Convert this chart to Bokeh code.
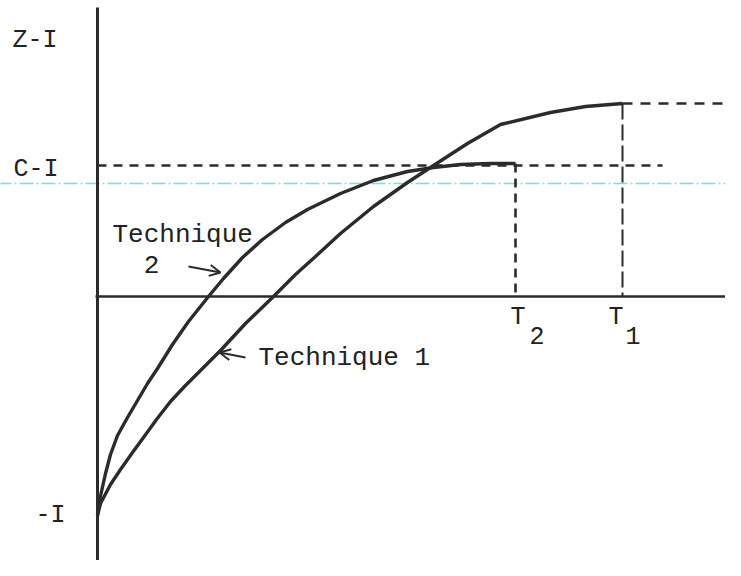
from bokeh.plotting import figure
from bokeh.models import Range1d, Arrow, OpenHead
from bokeh.core.properties import value
from bokeh.embed import file_html
from bokeh.resources import INLINE

# ---- data (time t, present value v) ----
tech2_t = [0.00, 0.02, 0.08, 0.13, 0.20, 0.30, 0.40, 0.50, 0.60, 0.75, 0.91, 1.11,
           1.26, 1.45, 1.65, 1.88, 2.10, 2.43, 2.76, 3.10, 3.36, 3.63, 3.93, 4.18]
tech2_v = [-2.19, -2.04, -1.77, -1.58, -1.39, -1.21, -1.04, -0.87, -0.72, -0.48, -0.25, 0.00,
           0.18, 0.39, 0.57, 0.74, 0.87, 1.03, 1.16, 1.25, 1.29, 1.32, 1.33, 1.33]
tech1_t = [0.00, 0.03, 0.13, 0.23, 0.35, 0.46, 0.59, 0.73, 0.87, 1.00, 1.23, 1.48,
           1.76, 1.98, 2.18, 2.43, 2.76, 3.10, 3.36, 3.70, 4.03, 4.53, 4.88, 5.25]
tech1_v = [-2.19, -2.07, -1.88, -1.73, -1.56, -1.41, -1.23, -1.05, -0.90, -0.77, -0.54, -0.27,
           0.00, 0.22, 0.40, 0.63, 0.90, 1.14, 1.31, 1.53, 1.72, 1.84, 1.90, 1.93]
T2 = 4.18
T1 = 5.25
CI_level = 1.31
ZI_level = 1.93
scan_level = 1.13

level_labels = ["Z-I", "C-I", "-I"]
tick_labels = ["T", "T"]
tick_subs = ["2", "1"]

INK = "#2b2b2b"
TXT = "#222222"
FONT = value("Liberation Mono")

p = figure(width=725, height=560, output_backend="svg", toolbar_location=None,
           x_axis_type=None, y_axis_type=None, min_border=0,
           x_range=Range1d(-0.97, 6.28), y_range=Range1d(-2.64, 2.96))
p.grid.visible = False
p.outline_line_color = None
p.background_fill_color = "white"
p.border_fill_color = "white"

# faint scan line
p.line([-1.0, 6.5], [scan_level, scan_level], line_color="#55dede", line_width=1.5,
       line_dash="14 3 2 3", line_alpha=0.85)

# axes
p.line([0, 0], [-2.9, 2.89], line_color=INK, line_width=3)
p.line([-0.02, 6.5], [0, 0], line_color=INK, line_width=2.6)

# dashed reference lines
p.line([0, 5.65], [CI_level, CI_level], line_color=INK, line_width=2.4, line_dash="9 7")
p.line([T2, T2], [tech2_v[-1], 0], line_color=INK, line_width=2.6, line_dash="9 6")
p.line([T1, T1], [ZI_level, 0], line_color=INK, line_width=2.0, line_dash="16 5")
p.line([T1, 6.5], [ZI_level, ZI_level], line_color=INK, line_width=2.6, line_dash="10 8")

# curves
p.line(tech2_t, tech2_v, line_color=INK, line_width=3.4, line_join="round")
p.line(tech1_t, tech1_v, line_color=INK, line_width=3.4, line_join="round")

# level labels
p.text(x=[-0.85, -0.84, -0.62], y=[2.56, 1.27, -2.19], text=level_labels,
       text_font=FONT, text_font_size="25px", text_color=TXT,
       text_baseline="alphabetic", text_align="left")

# T labels with subscripts
p.text(x=[T2 - 0.05, T1 - 0.14], y=[-0.21, -0.21], text=tick_labels,
       text_font=FONT, text_font_size="25px", text_color=TXT,
       text_baseline="alphabetic", text_align="left")
p.text(x=[T2 + 0.14, T1 + 0.03], y=[-0.39, -0.39], text=tick_subs,
       text_font=FONT, text_font_size="25px", text_color=TXT,
       text_baseline="alphabetic", text_align="left")

# technique labels
p.text(x=[0.15], y=[0.62], text=["Technique"], text_font=FONT, text_font_size="26px",
       text_color=TXT, text_baseline="alphabetic", text_align="left")
p.text(x=[0.54], y=[0.32], text=["2"], text_font=FONT, text_font_size="26px",
       text_color=TXT, text_baseline="alphabetic", text_align="center")
p.text(x=[1.61], y=[-0.61], text=["Technique 1"], text_font=FONT, text_font_size="26px",
       text_color=TXT, text_baseline="alphabetic", text_align="left")

# pointer arrows
p.add_layout(Arrow(x_start=0.91, y_start=0.30, x_end=1.23, y_end=0.24,
                   line_color=INK, line_width=2,
                   end=OpenHead(size=11, line_color=INK, line_width=2)))
p.add_layout(Arrow(x_start=1.48, y_start=-0.61, x_end=1.22, y_end=-0.56,
                   line_color=INK, line_width=2,
                   end=OpenHead(size=11, line_color=INK, line_width=2)))

open("out.html", "w").write(file_html(p, INLINE))
